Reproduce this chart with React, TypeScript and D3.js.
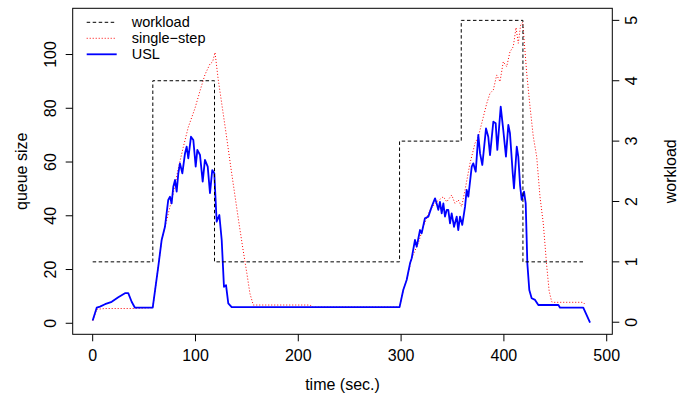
import React from 'react';
import * as d3 from 'd3';

const W = 687;
const H = 398;

// ---------- data ----------
const timeTicks = [0, 100, 200, 300, 400, 500];
const queueTicks = [0, 20, 40, 60, 80, 100];
const workloadTicks = [0, 1, 2, 3, 4, 5];

const workloadTime = [0, 58.5, 118.5, 298.5, 358.5, 418.5, 478];
const workloadLevel = [1, 4, 1, 3, 5, 1, 1];

const uslTime = [
  0, 3.9, 7.1, 12, 18.5, 24.9, 31.4, 34.6, 37.9, 41.1, 58.4,
  63.8, 67.1, 70.3, 73.5, 75.2, 76.8, 78.4, 80.1, 81.7, 83.3, 84.9, 87.2, 89.8,
  91.4, 93.0, 95.6, 97.9, 100.2, 101.8, 104.4, 107.0, 109.2, 111.9, 114.1, 116.3,
  118.3, 120.6, 123.2, 125.5, 127.7, 129.7, 131.9, 135.2,
  298.5, 302.1, 305.4, 308.7, 310.3, 313.5, 315.2, 318.4, 320.0, 323.2, 326.5,
  329.8, 333.0, 334.6, 336.2, 337.8, 339.5, 341.1, 342.7, 344.4, 345.9, 347.6,
  349.2, 351.5, 354.1, 355.6, 357.3, 359.5, 362.2, 363.8, 365.4, 368.7, 370.2,
  372.6, 375.1, 376.8, 379.0, 382.6, 384.8, 386.5, 389.7, 392.0, 393.6, 396.9,
  399.4, 402.0, 404.3, 405.9, 408.6, 409.8, 412.5, 414.0, 415.7, 417.3, 419.6,
  421.2, 422.8, 424.7, 427.0, 430.3, 433.5, 453.0, 454.6, 477.2, 483.8,
];
const uslQueue = [
  1.0, 5.8, 6.2, 7.1, 8.0, 9.7, 11.2, 11.2, 8.0, 5.8, 5.8,
  21.1, 31.0, 35.9, 45.9, 47.1, 44.6, 50.8, 53.3, 49.0, 55.8, 59.5, 55.8, 63.2,
  65.7, 61.4, 69.4, 68.2, 58.3, 64.5, 62.6, 52.7, 60.8, 58.3, 48.4, 57.0,
  55.8, 37.8, 40.3, 31.0, 13.6, 14.2, 7.4, 6.0,
  6.0, 12.4, 16.1, 22.3, 24.2, 31.0, 28.5, 34.7, 33.5, 39.1, 39.7,
  43.4, 46.5, 44.6, 42.2, 45.2, 40.9, 44.6, 39.7, 42.2, 42.2, 37.2,
  40.9, 35.9, 39.7, 34.7, 39.7, 36.6, 43.4, 49.6, 47.1, 58.3, 59.5,
  56.4, 70.1, 63.2, 58.9, 72.5, 69.4, 62.6, 75.0, 74.4, 64.5, 80.6,
  71.9, 62.0, 73.8, 70.7, 55.8, 50.2, 65.7, 62.0, 51.5, 45.9, 49.0,
  44.6, 22.3, 12.4, 9.3, 8.7, 6.8, 6.8, 5.8, 5.8, 0.2,
];

const stepTime = [
  0, 3.9, 12, 41, 58.4, 63.8, 67.1, 72.0, 78.4, 83.3, 88.1, 93.0, 99.5, 104.4,
  109.2, 114.1, 116.7, 119.0, 122, 126, 130, 134, 138, 142, 146, 150, 153, 156.2,
  211.7, 213, 298.5, 302.1, 305.4, 310.3, 316.7, 321.6, 328.1, 334.6, 341.1,
  344.4, 349.2, 352.4, 355.6, 358.9, 362.2, 367.0, 371.9, 375.1, 378.4, 383.3,
  386.5, 389.7, 393.0, 396.2, 399.4, 402.7, 405.9, 409.1, 411.8, 414.0, 416.3,
  418.3, 422.2, 425.4, 428.6, 431.9, 435.1, 438.3, 441.5, 444, 446.5, 448.1,
  477.2, 479.3,
];
const stepQueue = [
  1.0, 5.2, 5.5, 5.5, 5.8, 21.1, 31, 38.4, 48.4, 57.7, 65.5, 73, 80, 86.5,
  92.5, 96.5, 97.3, 100.8, 91, 80.5, 70, 59, 48.5, 38, 28, 18.5, 11, 6.8,
  6.8, 6.0, 6.0, 12.4, 16.1, 24.2, 29.8, 35.9, 42.2, 45.2, 47.1,
  45.2, 47.7, 44.6, 45.9, 43.4, 49.6, 59.5, 67.0, 69.4, 74.4, 81.8,
  85.6, 86.8, 92.4, 89.9, 97.3, 95.5, 101.0, 102.9, 110, 104.2, 111,
  112, 93, 80.6, 69.4, 62, 47.1, 37.2, 22, 12, 8, 7.8,
  7.8, 6.8,
];

const legendLabels = ['workload', 'single\u2212step', 'USL'];
const legendColors = ['#000000', '#FF0000', '#0000FF'];

// ---------- layout ----------
const box = { left: 72.7, right: 612.3, top: 8.3, bottom: 334.3 };
const FONT = '"Liberation Sans", Arial, Helvetica, sans-serif';

export default function App() {
  const tMax = 486;
  const x = d3.scaleLinear().domain([-0.04 * tMax, 1.04 * tMax]).range([box.left, box.right]);
  const yL = d3.scaleLinear().domain([-4.1, 117.2]).range([box.bottom, box.top]);
  const yR = d3.scaleLinear().domain([-0.2, 5.2]).range([box.bottom, box.top]);

  const usl = uslTime.map((t, i) => [t, uslQueue[i]] as [number, number]);
  const step = stepTime.map((t, i) => [t, stepQueue[i]] as [number, number]);
  const wl = workloadTime.map((t, i) => [t, workloadLevel[i]] as [number, number]);

  const lineL = d3.line<[number, number]>().x(d => x(d[0])).y(d => yL(d[1]));
  const lineW = d3
    .line<[number, number]>()
    .x(d => x(d[0]))
    .y(d => yR(d[1]))
    .curve(d3.curveStepAfter);

  const tickLen = 7;
  const fs = 16;
  const legendFs = 14.5;

  const legendY = [22.3, 38.3, 54.3];
  const legendDash = ['3.5,2.5', '1,2', null];
  const legendWidth = [1, 1, 1.8];

  return (
    <svg
      width={W}
      height={H}
      style={{ position: 'absolute', left: 0, top: 0, background: '#fff' }}
      fontFamily={FONT}
    >
      <rect x={0} y={0} width={W} height={H} fill="#fff" />
      {/* series */}
      <path d={lineL(step) || ''} fill="none" stroke="#FF0000" strokeWidth={1} strokeDasharray="1,2" />
      <path d={lineL(usl) || ''} fill="none" stroke="#0000FF" strokeWidth={1.8} strokeLinejoin="round" />
      <path d={lineW(wl) || ''} fill="none" stroke="#000" strokeWidth={1} strokeDasharray="3.5,2.5" />

      {/* frame */}
      <rect
        x={box.left}
        y={box.top}
        width={box.right - box.left}
        height={box.bottom - box.top}
        fill="none"
        stroke="#000"
        strokeWidth={1}
      />

      {/* bottom axis */}
      <g>
        {timeTicks.map(t => (
          <g key={t}>
            <line x1={x(t)} x2={x(t)} y1={box.bottom} y2={box.bottom + tickLen} stroke="#000" />
            <text x={x(t)} y={361} fontSize={fs} textAnchor="middle">
              {t}
            </text>
          </g>
        ))}
        <text x={(box.left + box.right) / 2} y={390} fontSize={fs} textAnchor="middle">
          time (sec.)
        </text>
      </g>

      {/* left axis */}
      <g>
        {queueTicks.map(v => (
          <g key={v}>
            <line x1={box.left - tickLen} x2={box.left} y1={yL(v)} y2={yL(v)} stroke="#000" />
            <text
              transform={`translate(56,${yL(v)}) rotate(-90)`}
              fontSize={fs}
              textAnchor="middle"
            >
              {v}
            </text>
          </g>
        ))}
        <text
          transform={`translate(27,${(box.top + box.bottom) / 2}) rotate(-90)`}
          fontSize={fs}
          textAnchor="middle"
        >
          queue size
        </text>
      </g>

      {/* right axis */}
      <g>
        {workloadTicks.map(v => (
          <g key={v}>
            <line x1={box.right} x2={box.right + tickLen} y1={yR(v)} y2={yR(v)} stroke="#000" />
            <text
              transform={`translate(637,${yR(v)}) rotate(-90)`}
              fontSize={fs}
              textAnchor="middle"
            >
              {v}
            </text>
          </g>
        ))}
        <text
          transform={`translate(676,${(box.top + box.bottom) / 2}) rotate(-90)`}
          fontSize={fs}
          textAnchor="middle"
        >
          workload
        </text>
      </g>

      {/* legend */}
      <g>
        {legendLabels.map((lab, i) => (
          <g key={lab}>
            <line
              x1={86.7}
              x2={116.7}
              y1={legendY[i]}
              y2={legendY[i]}
              stroke={legendColors[i]}
              strokeWidth={legendWidth[i]}
              strokeDasharray={legendDash[i] || undefined}
            />
            <text x={131.7} y={legendY[i]} dy="0.35em" fontSize={legendFs}>
              {lab}
            </text>
          </g>
        ))}
      </g>
    </svg>
  );
}
